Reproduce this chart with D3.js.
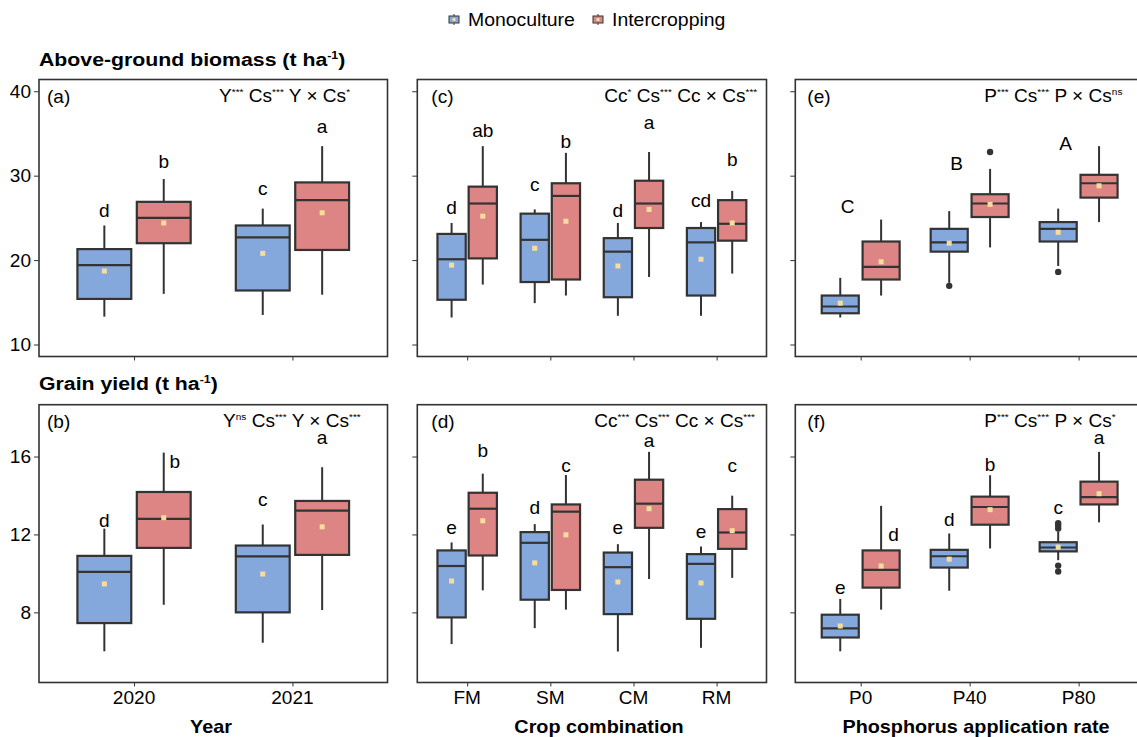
<!DOCTYPE html>
<html><head><meta charset="utf-8">
<script src="https://cdn.jsdelivr.net/npm/d3@7"></script>
<style>
body{margin:0;background:#fff;}
text{font-family:"Liberation Sans",Arial,sans-serif;fill:#000;}
</style></head>
<body><svg id="chart" width="1137" height="737"></svg>
<script>
// ---------------- DATA ----------------
// stats: [lower whisker, Q1, median, Q3, upper whisker, mean]
const systems = ["Monoculture", "Intercropping"];
const years = ["2020", "2021"];
const crops = ["FM", "SM", "CM", "RM"];
const prates = ["P0", "P40", "P80"];
const biomassTicks = [10, 20, 30, 40];
const grainTicks = [8, 12, 16];

// (a) biomass by year
const aMono  = [[13.3,15.4,19.4,21.3,24.1,18.7],[13.5,16.4,22.7,24.1,26.1,20.8]];
const aInter = [[16.0,22.0,25.0,26.9,29.6,24.4],[15.9,21.2,27.1,29.2,33.5,25.6]];
const aMonoOut = [[],[]];
const aInterOut = [[],[]];
const aMonoLetters = ["d","c"],  aMonoLetterY = [25.1,27.7];
const aInterLetters = ["b","a"], aInterLetterY = [30.9,35.1];

// (c) biomass by crop combination
const cMono  = [[13.2,15.3,20.1,23.1,24.4,19.4],[14.9,17.4,22.4,25.5,26.0,21.4],[13.4,15.6,21.0,22.6,24.4,19.3],[13.4,15.8,22.1,23.8,24.5,20.1]];
const cInter = [[17.1,20.2,26.7,28.7,33.5,25.2],[15.8,17.7,27.6,29.1,32.7,24.6],[18.0,23.8,26.7,29.4,32.8,26.0],[18.4,22.3,24.3,27.1,28.2,24.4]];
const cMonoOut = [[],[],[],[]];
const cInterOut = [[],[],[],[]];
const cMonoLetters = ["d","c","d","cd"],  cMonoLetterY = [25.4,28.2,25.1,26.3];
const cInterLetters = ["ab","b","a","b"], cInterLetterY = [34.6,33.3,35.5,31.2];

// (e) biomass by phosphorus rate
const eMono  = [[13.2,13.7,14.5,15.8,17.9,14.9],[17.3,21.0,22.1,23.7,25.8,22.0],[19.3,22.2,23.7,24.5,26.1,23.3]];
const eInter = [[15.8,17.7,19.2,22.2,24.8,19.8],[21.5,25.1,26.7,27.8,30.8,26.6],[24.5,27.4,29.1,30.1,33.5,28.8]];
const eMonoOut = [[],[16.95],[18.6]];
const eInterOut = [[],[32.8],[]];
const ePLetters = ["C","B","A"], ePLetterY = [25.6,30.7,33.05];

// (b) grain yield by year
const bMono  = [[6.0,7.45,10.08,10.9,12.3,9.46],[6.44,8.0,10.87,11.43,12.51,9.97]];
const bInter = [[8.39,11.31,12.8,14.18,16.2,12.86],[8.12,10.95,13.22,13.72,15.45,12.39]];
const bMonoOut = [[],[]];
const bInterOut = [[],[]];
const bMonoLetters = ["d","c"],  bMonoLetterY = [12.39,13.47];
const bInterLetters = ["b","a"], bInterLetterY = [15.43,16.64];
const bInterLetterNudge = [0.07,0];

// (d) grain yield by crop combination
const dMono  = [[6.37,7.74,10.38,11.18,11.59,9.61],[7.19,8.65,11.57,12.12,12.53,10.54],[5.99,7.91,10.32,11.07,11.5,9.56],[6.18,7.67,10.49,10.99,11.38,9.51]];
const dInter = [[9.13,10.92,13.32,14.14,15.12,12.7],[8.14,9.15,13.17,13.54,15.05,11.98],[9.71,12.34,13.58,14.81,16.24,13.32],[9.77,11.26,12.1,13.3,13.99,12.19]];
const dMonoOut = [[],[],[],[]];
const dInterOut = [[],[],[],[]];
const dMonoLetters = ["e","d","e","e"],  dMonoLetterY = [12.02,13.03,12.02,11.83];
const dInterLetters = ["b","c","a","c"], dInterLetterY = [16.0,15.19,16.51,15.21];

// (f) grain yield by phosphorus rate
const fMono  = [[6.0,6.71,7.18,7.88,8.69,7.3],[9.11,10.3,10.88,11.21,12.05,10.73],[10.68,11.13,11.33,11.6,12.15,11.35]];
const fInter = [[8.14,9.27,10.18,11.18,13.47,10.38],[11.28,12.5,13.41,13.94,15.04,13.27],[12.62,13.54,13.92,14.71,16.24,14.09]];
const fMonoOut = [[],[],[12.3,12.45,12.58,10.4,10.1]];
const fInterOut = [[],[],[]];
const fMonoLetters = ["e","d","c"],  fMonoLetterY = [8.93,12.43,13.05];
const fInterLetters = ["d","b","a"], fInterLetterY = [11.67,15.24,16.64];
const fInterLetterNudge = [0.115,0,0];

const annA = [["Y","***"],["Cs","***"],["Y × Cs","*"]];
const annB = [["Y","ns"],["Cs","***"],["Y × Cs","***"]];
const annC = [["Cc","*"],["Cs","***"],["Cc × Cs","***"]];
const annD = [["Cc","***"],["Cs","***"],["Cc × Cs","***"]];
const annE = [["P","***"],["Cs","***"],["P × Cs","ns"]];
const annF = [["P","***"],["Cs","***"],["P × Cs","*"]];

// ---------------- STYLE / LAYOUT ----------------
const COL = {Monoculture:"#84a8dc", Intercropping:"#dd8584"};
const STROKE = "#333333";
const MEANCOL = "#f6dd9c";
const FS = 18, SX = 1.06;
const BFS = 18, BSX = 1.1;
const TFS = 19, TSX = 1.12;
const BOXW = 0.34, DODGE = 0.1875;

const svg = d3.select("#chart");

function txt(g, x, y, str, o={}) {
  const t = g.append("text")
    .attr("transform", `translate(${x},${y}) scale(${o.sx||SX},1)`)
    .attr("text-anchor", o.anchor||"start")
    .style("font-size", (o.fs||FS)+"px")
    .style("font-weight", o.bold?"bold":"normal");
  if (str !== null) t.text(str);
  return t;
}

const colX = [[39,387.5],[417.3,766.5],[795.3,1144]];
const rowY = [[79.5,356.5],[404.7,682.5]];

function panel(spec) {
  const [x0,x1] = colX[spec.col];
  const [y0,y1] = rowY[spec.row];
  const n = spec.cats.length;
  const x = d3.scaleLinear().domain([0.4, n+0.6]).range([x0,x1]);
  const y = d3.scaleLinear().domain(spec.ydom).range([y1,y0]);
  const g = svg.append("g");
  const bw = x(BOXW) - x(0);

  // axes
  const ya = d3.axisLeft(y).tickValues(spec.yticks).tickSize(5).tickFormat(() => "");
  const yg = g.append("g").attr("transform",`translate(${x0},0)`).call(ya);
  yg.select(".domain").remove();
  yg.selectAll(".tick line").attr("stroke",STROKE).attr("stroke-width",1);
  yg.selectAll(".tick text").remove();
  if (spec.col===0) spec.yticks.forEach(v => txt(g, x0-8, y(v)+6.5, String(v), {anchor:"end"}));

  const xa = d3.axisBottom(x).tickValues(d3.range(1,n+1)).tickSize(4).tickFormat(() => "");
  const xg = g.append("g").attr("transform",`translate(0,${y1})`).call(xa);
  xg.select(".domain").remove();
  xg.selectAll(".tick line").attr("stroke",STROKE).attr("stroke-width",1);
  xg.selectAll(".tick text").remove();
  if (spec.row===1) spec.cats.forEach((c,i) => txt(g, x(i+1), y1+21.5, c, {anchor:"middle"}));

  // boxes
  const groups = [
    {sys:"Monoculture", stats:spec.mono, out:spec.monoOut, off:-DODGE},
    {sys:"Intercropping", stats:spec.inter, out:spec.interOut, off:DODGE}];
  groups.forEach(gr => {
    gr.stats.forEach((s,i) => {
      const xc = x(i+1+gr.off);
      const [lo,q1,md,q3,hi,mn] = s;
      g.append("line").attr("x1",xc).attr("x2",xc).attr("y1",y(hi)).attr("y2",y(q3))
        .attr("stroke",STROKE).attr("stroke-width",2);
      g.append("line").attr("x1",xc).attr("x2",xc).attr("y1",y(q1)).attr("y2",y(lo))
        .attr("stroke",STROKE).attr("stroke-width",2);
      g.append("rect").attr("x",xc-bw/2).attr("width",bw).attr("y",y(q3)).attr("height",y(q1)-y(q3))
        .attr("fill",COL[gr.sys]).attr("stroke",STROKE).attr("stroke-width",2.2);
      g.append("line").attr("x1",xc-bw/2).attr("x2",xc+bw/2).attr("y1",y(md)).attr("y2",y(md))
        .attr("stroke",STROKE).attr("stroke-width",2.2);
      g.append("rect").attr("x",xc-2.5).attr("y",y(mn)-2.5).attr("width",5).attr("height",5).attr("fill",MEANCOL);
      (gr.out[i]||[]).forEach(v => g.append("circle").attr("cx",xc).attr("cy",y(v)).attr("r",3.2).attr("fill",STROKE));
    });
  });

  // letters
  if (spec.monoLetters) spec.monoLetters.forEach((l,i) =>
    txt(g, x(i+1-DODGE), y(spec.monoLetterY[i]), l, {anchor:"middle"}));
  if (spec.interLetters) spec.interLetters.forEach((l,i) =>
    txt(g, x(i+1+DODGE+((spec.interNudge||[])[i]||0)), y(spec.interLetterY[i]), l, {anchor:"middle"}));
  if (spec.catLetters) spec.catLetters.forEach((l,i) =>
    txt(g, x(i+1-0.12), y(spec.catLetterY[i]), l, {anchor:"middle"}));

  // panel border
  g.append("rect").attr("x",x0).attr("y",y0).attr("width",x1-x0).attr("height",y1-y0)
    .attr("fill","none").attr("stroke",STROKE).attr("stroke-width",1.6);

  // tag & annotation
  txt(g, x0+spec.tagDx, y0+23, spec.tag);
  const at = txt(g, x0+spec.annDx, y0+22, null);
  spec.ann.forEach(([base,sup],k) => {
    at.append("tspan").attr("dy", k===0 ? 0 : 7).text((k===0?"":" ") + base);
    at.append("tspan").attr("dy",-7).style("font-size","9.5px").text(sup);
  });
}

panel({row:0,col:0,cats:years,ydom:[8.58,41.39],yticks:biomassTicks,mono:aMono,inter:aInter,monoOut:aMonoOut,interOut:aInterOut,
  monoLetters:aMonoLetters,monoLetterY:aMonoLetterY,interLetters:aInterLetters,interLetterY:aInterLetterY,tag:"(a)",tagDx:8,ann:annA,annDx:180});
panel({row:0,col:1,cats:crops,ydom:[8.58,41.39],yticks:biomassTicks,mono:cMono,inter:cInter,monoOut:cMonoOut,interOut:cInterOut,
  monoLetters:cMonoLetters,monoLetterY:cMonoLetterY,interLetters:cInterLetters,interLetterY:cInterLetterY,tag:"(c)",tagDx:14,ann:annC,annDx:187});
panel({row:0,col:2,cats:prates,ydom:[8.58,41.39],yticks:biomassTicks,mono:eMono,inter:eInter,monoOut:eMonoOut,interOut:eInterOut,
  catLetters:ePLetters,catLetterY:ePLetterY,tag:"(e)",tagDx:12,ann:annE,annDx:189});
panel({row:1,col:0,cats:years,ydom:[4.4,18.66],yticks:grainTicks,mono:bMono,inter:bInter,monoOut:bMonoOut,interOut:bInterOut,
  monoLetters:bMonoLetters,monoLetterY:bMonoLetterY,interLetters:bInterLetters,interLetterY:bInterLetterY,interNudge:bInterLetterNudge,tag:"(b)",tagDx:8,ann:annB,annDx:184});
panel({row:1,col:1,cats:crops,ydom:[4.4,18.66],yticks:grainTicks,mono:dMono,inter:dInter,monoOut:dMonoOut,interOut:dInterOut,
  monoLetters:dMonoLetters,monoLetterY:dMonoLetterY,interLetters:dInterLetters,interLetterY:dInterLetterY,tag:"(d)",tagDx:14,ann:annD,annDx:177});
panel({row:1,col:2,cats:prates,ydom:[4.4,18.66],yticks:grainTicks,mono:fMono,inter:fInter,monoOut:fMonoOut,interOut:fInterOut,
  monoLetters:fMonoLetters,monoLetterY:fMonoLetterY,interLetters:fInterLetters,interLetterY:fInterLetterY,interNudge:fInterLetterNudge,tag:"(f)",tagDx:12,ann:annF,annDx:189});

// row titles
function title(x,y,base,sup,rest){
  const t = txt(svg, x, y, null, {bold:true, fs:TFS, sx:TSX});
  t.append("tspan").text(base);
  t.append("tspan").attr("dy",-7.5).style("font-size","11px").text(sup);
  t.append("tspan").attr("dy",7.5).text(rest);
}
title(39,66,"Above-ground biomass (t ha","-1",")");
title(39,390,"Grain yield (t ha","-1",")");

// axis titles
[["Year",211],["Crop combination",599],["Phosphorus application rate",976]].forEach(([s,xm]) => {
  txt(svg, xm, 733, s, {anchor:"middle", bold:true, fs:BFS, sx:BSX});
});

// legend
const legX = [449, 593];
systems.forEach((s,i) => {
  const lx = legX[i];
  const lg = svg.append("g");
  lg.append("line").attr("x1",lx+5).attr("x2",lx+5).attr("y1",14).attr("y2",25).attr("stroke",STROKE).attr("stroke-width",1);
  lg.append("rect").attr("x",lx).attr("y",16).attr("width",10).attr("height",7).attr("fill",COL[s]).attr("stroke",STROKE).attr("stroke-width",1);
  lg.append("rect").attr("x",lx+3.5).attr("y",18).attr("width",3).attr("height",3).attr("fill",MEANCOL);
  txt(lg, lx+19, 26, s, {fs:18, sx:1.08});
});
</script></body></html>
